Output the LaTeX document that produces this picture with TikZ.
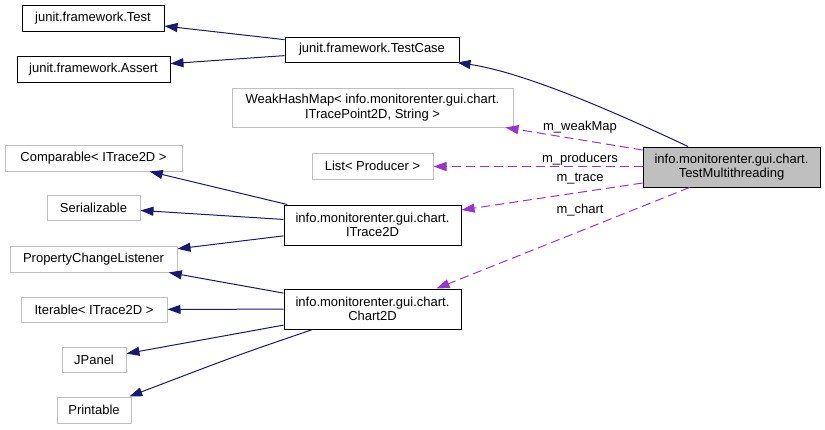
\documentclass[tikz,border=0pt]{standalone}
\usepackage{fontspec}
\setmainfont{Liberation Sans}
\usetikzlibrary{arrows.meta,calc}
\definecolor{navy}{HTML}{191970}
\definecolor{purp}{HTML}{9A32CD}
\definecolor{lgray}{HTML}{BFBFBF}
\begin{document}
\begin{tikzpicture}[x=1pt,y=-1pt,
  every node/.style={font=\fontsize{13}{14.3}\selectfont},
  cls/.style={draw=black, line width=1pt, inner sep=0pt, align=center, rectangle},
  ext/.style={draw=lgray, line width=1pt, inner sep=0pt, align=center, rectangle},
  main/.style={cls, fill=lgray},
  inh/.style={draw=navy, line width=1pt, -{Triangle[length=13pt,width=9pt]}},
  use/.style={draw=purp, line width=1pt, dash pattern=on 9pt off 5pt, -{Triangle[length=13pt,width=9pt]}},
  lbl/.style={inner sep=0pt}]
\useasboundingbox (0,0) rectangle (825,429);
\node[cls, minimum width=142pt, minimum height=26pt] (test) at (93,18) {junit.framework.Test};
\node[cls, minimum width=153pt, minimum height=26pt] (assert) at (93.5,69) {junit.framework.Assert};
\node[cls, minimum width=174pt, minimum height=25pt] (testcase) at (372,49.5) {junit.framework.TestCase};
\node[ext, minimum width=281pt, minimum height=39pt] (weak) at (372.5,107.5) {WeakHashMap< info.monitorenter.gui.chart.\\ITracePoint2D, String >};
\node[ext, minimum width=177pt, minimum height=26pt] (comparable) at (93.5,158) {Comparable< ITrace2D >};
\node[ext, minimum width=93pt, minimum height=25pt] (serial) at (93.5,207.5) {Serializable};
\node[ext, minimum width=167pt, minimum height=26pt] (pcl) at (93.5,259) {PropertyChangeListener};
\node[ext, minimum width=121pt, minimum height=26pt] (list) at (372.5,166) {List< Producer >};
\node[cls, minimum width=177pt, minimum height=40pt] (itrace) at (372.5,225) {info.monitorenter.gui.chart.\\ITrace2D};
\node[ext, minimum width=146pt, minimum height=25pt] (iterable) at (94,309.5) {Iterable< ITrace2D >};
\node[cls, minimum width=177pt, minimum height=40pt] (chart) at (372.5,309) {info.monitorenter.gui.chart.\\Chart2D};
\node[ext, minimum width=64pt, minimum height=25pt] (jpanel) at (94,359.5) {JPanel};
\node[ext, minimum width=74pt, minimum height=26pt] (printable) at (94,410) {Printable};
\node[main, minimum width=177pt, minimum height=40pt] (tm) at (731.5,167) {info.monitorenter.gui.chart.\\TestMultithreading};

\draw[inh] (testcase) -- (test);
\draw[inh] (testcase) -- (assert);
\draw[inh] (tm) .. controls (600,105) and (520,72) .. (testcase);
\draw[inh] (itrace) -- (comparable);
\draw[inh] (itrace) -- (serial);
\draw[inh] (itrace) -- (pcl);
\draw[inh] (chart) -- (pcl);
\draw[inh] (chart) -- (iterable);
\draw[inh] (chart) -- (jpanel);
\draw[inh] (chart) .. controls (238,355) .. (printable);

\draw[use] ($(tm.west)+(0,-17)$) -- ($(weak.south east)+(-8,0)$);
\draw[use] ($(tm.west)+(0,-0.5)$) -- ($(tm.west -| list.east)+(0,-0.5)$);
\draw[use] ($(tm.west)+(0,16)$) -- ($(itrace.east)+(0,-15)$);
\draw[use] ($(tm.south)+(-42,0)$) -- ($(chart.north east)+(-25,0)$);

\node[lbl] (lw) at (580,127) {m\_weakMap};
\node[lbl] (lp) at (580,159) {m\_producers};
\node[lbl] (lt) at (580,179) {m\_trace};
\node[lbl] (lc) at (580,210) {m\_chart};
\end{tikzpicture}
\end{document}
